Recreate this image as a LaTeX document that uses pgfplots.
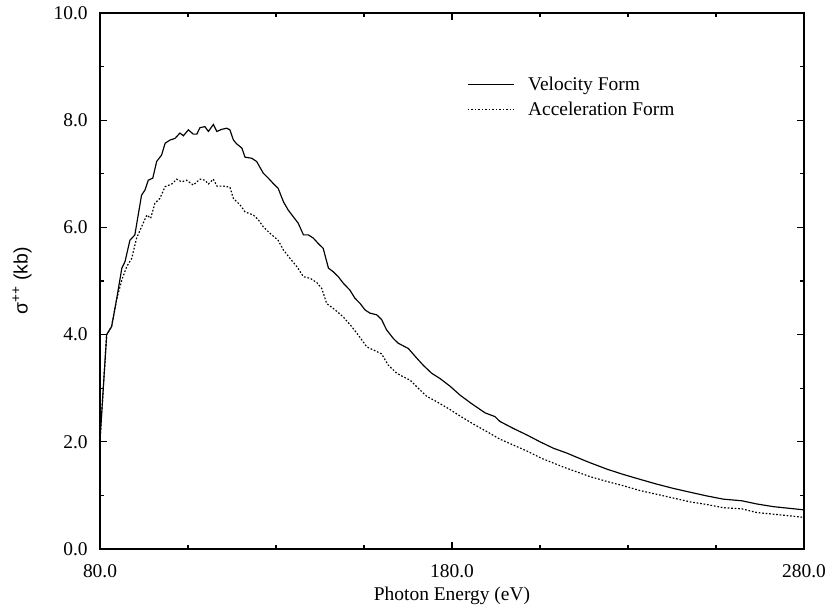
\documentclass[border=0pt]{standalone}
\usepackage{pgfplots}
\pgfplotsset{compat=1.18}
\usepackage{fontspec}
\setmainfont{Liberation Serif}
\newfontfamily\lsans{Liberation Sans}
\begin{document}
\begin{tikzpicture}[font=\fontsize{11.7}{14}\selectfont]
\begin{axis}[
  name=ax,
  scale only axis,
  width=422.4bp, height=321.6bp,
  xmin=80, xmax=280, ymin=0, ymax=10,
  xtick={80,180,280}, minor x tick num=3,
  ytick={0,2,4,6,8,10}, minor y tick num=1,
  tick align=inside,
  major tick length=4bp, minor tick length=2.4bp,
  every tick/.style={line width=0.8bp, black},
  axis line style={line width=0.8bp},
  /pgf/number format/.cd, fixed, fixed zerofill, precision=1, assume math mode=true,
  /pgfplots/.cd,
  xticklabel style={yshift=-5.7bp},
  yticklabel style={xshift=-3.9bp},
  xlabel={Photon Energy (eV)},
  xlabel style={at={(axis description cs:0.5,-0.0877)}, anchor=center},
  ylabel={\lsans σ\textsuperscript{++} (kb)},
  ylabel style={at={(axis description cs:-0.1108,0.5)}, anchor=center},
  legend style={at={(axis description cs:0.5213,0.8806)}, anchor=north west,
    draw=none, fill=none, inner sep=0pt, outer sep=0pt, row sep=4.4bp,
    nodes={inner sep=0pt, text height=8.2bp, text depth=2.6bp}},
  legend cell align=left,
  legend image code/.code={\draw[#1] (0bp,1bp) -- (27.6bp,1bp); \path (36bp,1bp);},
]
\addplot[black, line width=0.7bp] coordinates {
(80.0,2.03) (81.9,4.00) (83.3,4.15) (84.7,4.65) (86.2,5.24) (87.1,5.36) (88.5,5.76) (89.9,5.86)
(91.8,6.60) (92.8,6.70) (93.7,6.88) (95.0,6.92) (96.1,7.23) (97.5,7.35) (98.5,7.57) (99.9,7.63)
(101.3,7.66) (102.7,7.76) (103.7,7.71) (105.1,7.82) (106.5,7.74) (107.5,7.74) (108.4,7.86) (109.8,7.88)
(110.8,7.79) (112.2,7.92) (113.2,7.79) (114.6,7.83) (116.0,7.85) (116.9,7.82) (117.9,7.63) (118.8,7.56)
(120.3,7.48) (121.2,7.31) (123.1,7.29) (124.5,7.23) (126.4,7.01) (127.8,6.92) (129.2,6.82) (130.6,6.73)
(132.1,6.48) (133.5,6.32) (134.9,6.20) (136.3,6.08) (137.8,5.86) (139.2,5.86) (140.6,5.80) (142.0,5.70)
(143.4,5.61) (144.9,5.24) (146.3,5.17) (147.7,5.08) (149.1,4.96) (151.0,4.83) (152.4,4.68) (153.9,4.58)
(155.3,4.46) (156.7,4.40) (158.6,4.37) (160.0,4.28) (161.4,4.09) (163.3,3.93) (164.7,3.84) (167.6,3.74)
(170.0,3.56) (171.8,3.43) (174.2,3.28) (176.6,3.18) (179.4,3.04) (182.3,2.87) (185.6,2.71) (189.4,2.54)
(192.2,2.47) (193.6,2.38) (197.4,2.25) (201.2,2.13) (205.0,2.00) (208.8,1.88) (212.6,1.79) (217.3,1.66)
(219.2,1.61) (224.0,1.49) (228.7,1.39) (233.4,1.30) (238.2,1.21) (242.9,1.13) (247.6,1.06) (252.4,0.99)
(257.1,0.93) (262.3,0.90) (266.6,0.84) (271.3,0.79) (280.0,0.73)
};
\addlegendentry{Velocity Form}
\addplot[black, line width=0.7bp, dash pattern=on 1bp off 1.1bp] coordinates {
(80.0,2.03) (81.9,4.00) (83.3,4.15) (84.7,4.65) (86.2,5.02) (87.6,5.27) (89.0,5.42) (90.4,5.80)
(91.8,6.01) (93.3,6.23) (94.4,6.17) (95.6,6.45) (97.0,6.54) (98.5,6.76) (100.4,6.81) (101.8,6.90)
(103.2,6.85) (104.6,6.88) (106.5,6.79) (108.4,6.90) (109.8,6.88) (110.8,6.81) (112.2,6.90) (113.2,6.77)
(115.1,6.77) (116.9,6.75) (117.9,6.54) (119.8,6.42) (121.2,6.29) (123.6,6.23) (125.0,6.14) (126.4,6.01)
(128.3,5.89) (130.6,5.76) (132.1,5.58) (134.0,5.42) (135.9,5.27) (137.8,5.08) (139.7,5.05) (141.6,4.97)
(143.0,4.86) (144.4,4.58) (146.8,4.46) (149.1,4.33) (151.5,4.15) (153.4,3.99) (155.8,3.77) (158.1,3.70)
(160.0,3.64) (161.9,3.43) (164.3,3.28) (166.2,3.21) (168.1,3.15) (170.4,3.00) (172.8,2.85) (175.6,2.75)
(179.0,2.62) (182.3,2.48) (186.1,2.33) (189.9,2.19) (193.6,2.05) (197.4,1.94) (201.2,1.83) (205.5,1.69)
(212.0,1.52) (219.2,1.35) (224.0,1.26) (228.7,1.18) (233.4,1.09) (238.2,1.02) (242.9,0.95) (247.6,0.88)
(252.4,0.83) (257.1,0.77) (262.3,0.75) (266.6,0.68) (271.3,0.65) (280.0,0.59)
};
\addlegendentry{Acceleration Form}
\end{axis}
\pgfresetboundingbox
\useasboundingbox (ax.south west) ++(-60bp,-36bp) rectangle ([shift={(15.6bp,7.8bp)}]ax.north east);
\end{tikzpicture}
\end{document}
